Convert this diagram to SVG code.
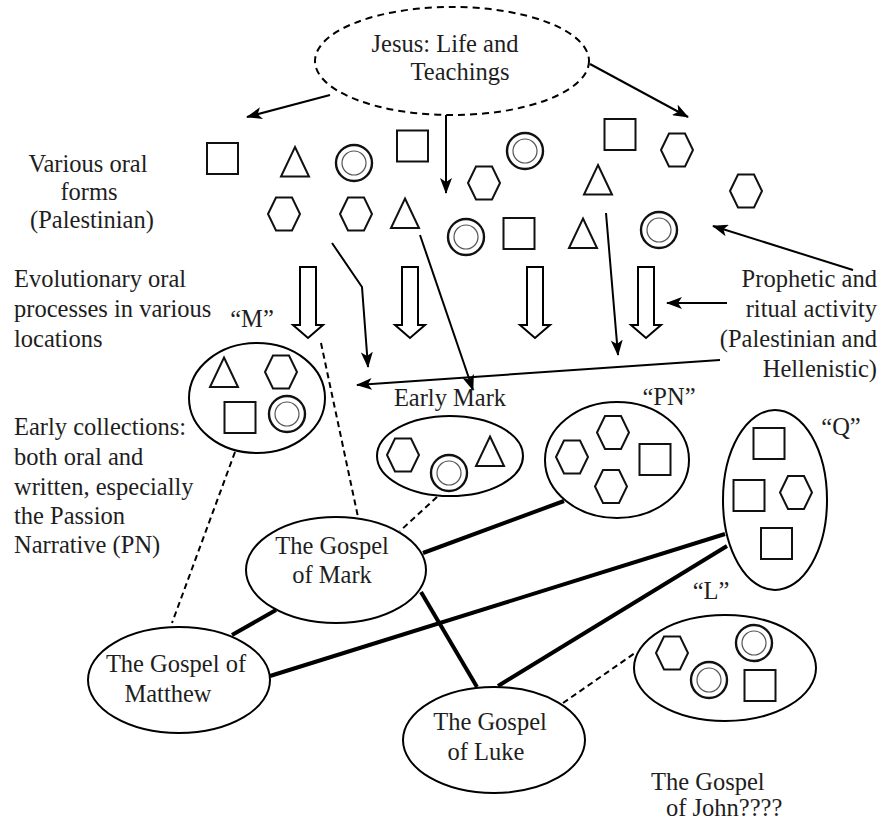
<svg xmlns="http://www.w3.org/2000/svg" xmlns:xlink="http://www.w3.org/1999/xlink" width="890" height="825" viewBox="0 0 890 825">
<style>
  text { font-family: "Liberation Serif", "Times New Roman", serif; font-size: 24.5px; fill: #1e1e1e; }
  .c { text-anchor: middle; }
  .e { text-anchor: end; }
  .node { fill: #fff; stroke: #000; stroke-width: 2; }
  .dash { fill: none; stroke: #000; stroke-width: 2; stroke-dasharray: 7 5; }
  .shape { fill: #fff; stroke: #111; stroke-width: 2; }
  .dcout { fill: #fff; stroke: #111; stroke-width: 2.4; }
  .inner { fill: none; stroke: #555; stroke-width: 1.2; }
  .arrow { fill: none; stroke: #000; stroke-width: 2; marker-end: url(#ah); }
  .thick { fill: none; stroke: #000; stroke-width: 4; }
  .dl { fill: none; stroke: #000; stroke-width: 2; stroke-dasharray: 6 4; }
  .hollow { fill: #fff; stroke: #000; stroke-width: 2; stroke-linejoin: miter; }
</style>
<defs>
  <marker id="ah" markerWidth="16" markerHeight="12" refX="15" refY="6" orient="auto" markerUnits="userSpaceOnUse">
    <path d="M0,0 L16,6 L0,12 L4,6 Z" fill="#000"/>
  </marker>
  <polygon id="hex" class="shape" points="-16,0 -8,-16.5 8,-16.5 16,0 8,16.5 -8,16.5"/>
  <rect id="sq" class="shape" x="-15.5" y="-15.5" width="31" height="31"/>
  <polygon id="tri" class="shape" points="0,-15 14,14.5 -14,14.5"/>
  <g id="dc"><circle class="dcout" r="18"/><circle class="inner" r="12"/></g>
</defs>
<rect width="890" height="825" fill="#fff"/>

<g id="connectors">
  <line class="arrow" x1="330" y1="95" x2="247" y2="117"/>
  <line class="arrow" x1="590" y1="64" x2="688" y2="117"/>
  <line class="arrow" x1="446" y1="115" x2="446" y2="193"/>
  <polyline class="arrow" points="332,243 362,287 368,367"/>
  <line class="arrow" x1="420" y1="235" x2="473" y2="390"/>
  <line class="arrow" x1="606" y1="213" x2="618" y2="355"/>
  <line class="arrow" x1="720" y1="360" x2="357" y2="385"/>
  <line class="arrow" x1="853" y1="270" x2="713" y2="226"/>
  <line class="arrow" x1="727" y1="303" x2="667" y2="303"/>
  <polygon class="hollow" points="300,267 316,267 316,325 323,325 308,338 293,325 300,325"/>
  <polygon class="hollow" points="402,267 418,267 418,325 425,325 410,338 395,325 402,325"/>
  <polygon class="hollow" points="527,267 543,267 543,325 550,325 535,338 520,325 527,325"/>
  <polygon class="hollow" points="638,267 654,267 654,325 661,325 646,338 631,325 638,325"/>
  <line class="dl" x1="235" y1="452" x2="172" y2="623"/>
  <line class="dl" x1="321" y1="343" x2="358" y2="517"/>
  <line class="dl" x1="437" y1="497" x2="400" y2="531"/>
  <line class="dl" x1="563" y1="703" x2="635" y2="653"/>
  <line class="thick" x1="423" y1="553" x2="564" y2="501"/>
  <line class="thick" x1="421" y1="592" x2="477" y2="687"/>
  <line class="thick" x1="232" y1="635" x2="276" y2="610"/>
  <line class="thick" x1="270" y1="676" x2="725" y2="534"/>
  <line class="thick" x1="498" y1="686" x2="727" y2="546"/>
</g>

<g id="jesus">
  <ellipse class="dash" cx="452" cy="61" rx="137" ry="54"/>
  <text class="c" x="445" y="52">Jesus: Life and</text>
  <text class="c" x="460" y="80">Teachings</text>
</g>

<g id="oral-forms">
  <use xlink:href="#sq" x="222.5" y="158.5"/>
  <use xlink:href="#tri" x="295" y="162"/>
  <use xlink:href="#dc" x="354" y="163"/>
  <use xlink:href="#sq" x="412.5" y="146"/>
  <use xlink:href="#dc" x="525" y="151"/>
  <use xlink:href="#sq" x="620" y="134.5"/>
  <use xlink:href="#hex" x="677" y="150"/>
  <use xlink:href="#tri" x="598" y="180"/>
  <use xlink:href="#hex" x="746" y="191"/>
  <use xlink:href="#hex" x="284" y="214"/>
  <use xlink:href="#hex" x="356" y="214"/>
  <use xlink:href="#tri" x="405" y="213.5"/>
  <use xlink:href="#hex" x="484" y="183"/>
  <use xlink:href="#dc" x="466" y="237"/>
  <use xlink:href="#sq" x="519" y="233.5"/>
  <use xlink:href="#tri" x="583" y="233.5"/>
  <use xlink:href="#dc" x="659" y="230"/>
</g>

<g id="labels-left">
  <text class="c" x="88" y="172">Various oral</text>
  <text class="c" x="89" y="200">forms</text>
  <text class="c" x="92" y="228">(Palestinian)</text>
  <text x="14" y="287">Evolutionary oral</text>
  <text x="14" y="317">processes in various</text>
  <text x="14" y="347">locations</text>
  <text x="14" y="435">Early collections:</text>
  <text x="14" y="465">both oral and</text>
  <text x="14" y="495">written, especially</text>
  <text x="14" y="524">the Passion</text>
  <text x="14" y="553">Narrative (PN)</text>
</g>

<g id="labels-right">
  <text class="e" x="877" y="287">Prophetic and</text>
  <text class="e" x="877" y="317">ritual activity</text>
  <text class="e" x="877" y="347">(Palestinian and</text>
  <text class="e" x="877" y="377">Hellenistic)</text>
</g>

<g id="m-source">
  <text class="c" x="252" y="327">“M”</text>
  <ellipse class="node" cx="257" cy="398" rx="68" ry="55"/>
  <use xlink:href="#tri" x="224" y="372.5"/>
  <use xlink:href="#hex" x="281" y="372"/>
  <use xlink:href="#sq" x="240" y="417.5"/>
  <use xlink:href="#dc" x="287" y="414"/>
</g>

<g id="early-mark">
  <text class="c" x="450" y="406">Early Mark</text>
  <ellipse class="node" cx="450" cy="456" rx="73" ry="40"/>
  <use xlink:href="#hex" x="403" y="455"/>
  <use xlink:href="#dc" x="449" y="473"/>
  <use xlink:href="#tri" x="490" y="451.5"/>
</g>

<g id="pn-source">
  <text class="c" x="669" y="405">“PN”</text>
  <ellipse class="node" cx="617" cy="460" rx="72" ry="58"/>
  <use xlink:href="#hex" x="613" y="432.5"/>
  <use xlink:href="#hex" x="572" y="457"/>
  <use xlink:href="#hex" x="611" y="486.5"/>
  <use xlink:href="#sq" x="655" y="459.5"/>
</g>

<g id="q-source">
  <text class="c" x="841" y="435">“Q”</text>
  <ellipse class="node" cx="775" cy="500" rx="52" ry="90"/>
  <use xlink:href="#sq" x="769" y="443.5"/>
  <use xlink:href="#sq" x="749" y="495.5"/>
  <use xlink:href="#hex" x="796" y="492.5"/>
  <use xlink:href="#sq" x="776.5" y="543.5"/>
</g>

<g id="l-source">
  <text class="c" x="711" y="599">“L”</text>
  <ellipse class="node" cx="725" cy="668" rx="91" ry="53"/>
  <use xlink:href="#hex" x="672" y="653"/>
  <use xlink:href="#dc" x="754" y="643"/>
  <use xlink:href="#dc" x="709" y="680"/>
  <use xlink:href="#sq" x="760" y="685.5"/>
</g>

<g id="mark">
  <ellipse class="node" cx="336" cy="570" rx="90" ry="53"/>
  <text class="c" x="332" y="554">The Gospel</text>
  <text class="c" x="332" y="583">of Mark</text>
</g>

<g id="matthew">
  <ellipse class="node" cx="179" cy="680" rx="91" ry="53"/>
  <text class="c" x="176" y="672">The Gospel of</text>
  <text class="c" x="168" y="702">Matthew</text>
</g>

<g id="luke">
  <ellipse class="node" cx="494" cy="740" rx="91" ry="53"/>
  <text class="c" x="490" y="730">The Gospel</text>
  <text class="c" x="486" y="760">of Luke</text>
</g>

<g id="john">
  <text x="651" y="790">The Gospel</text>
  <text x="666" y="816">of John????</text>
</g>
</svg>
